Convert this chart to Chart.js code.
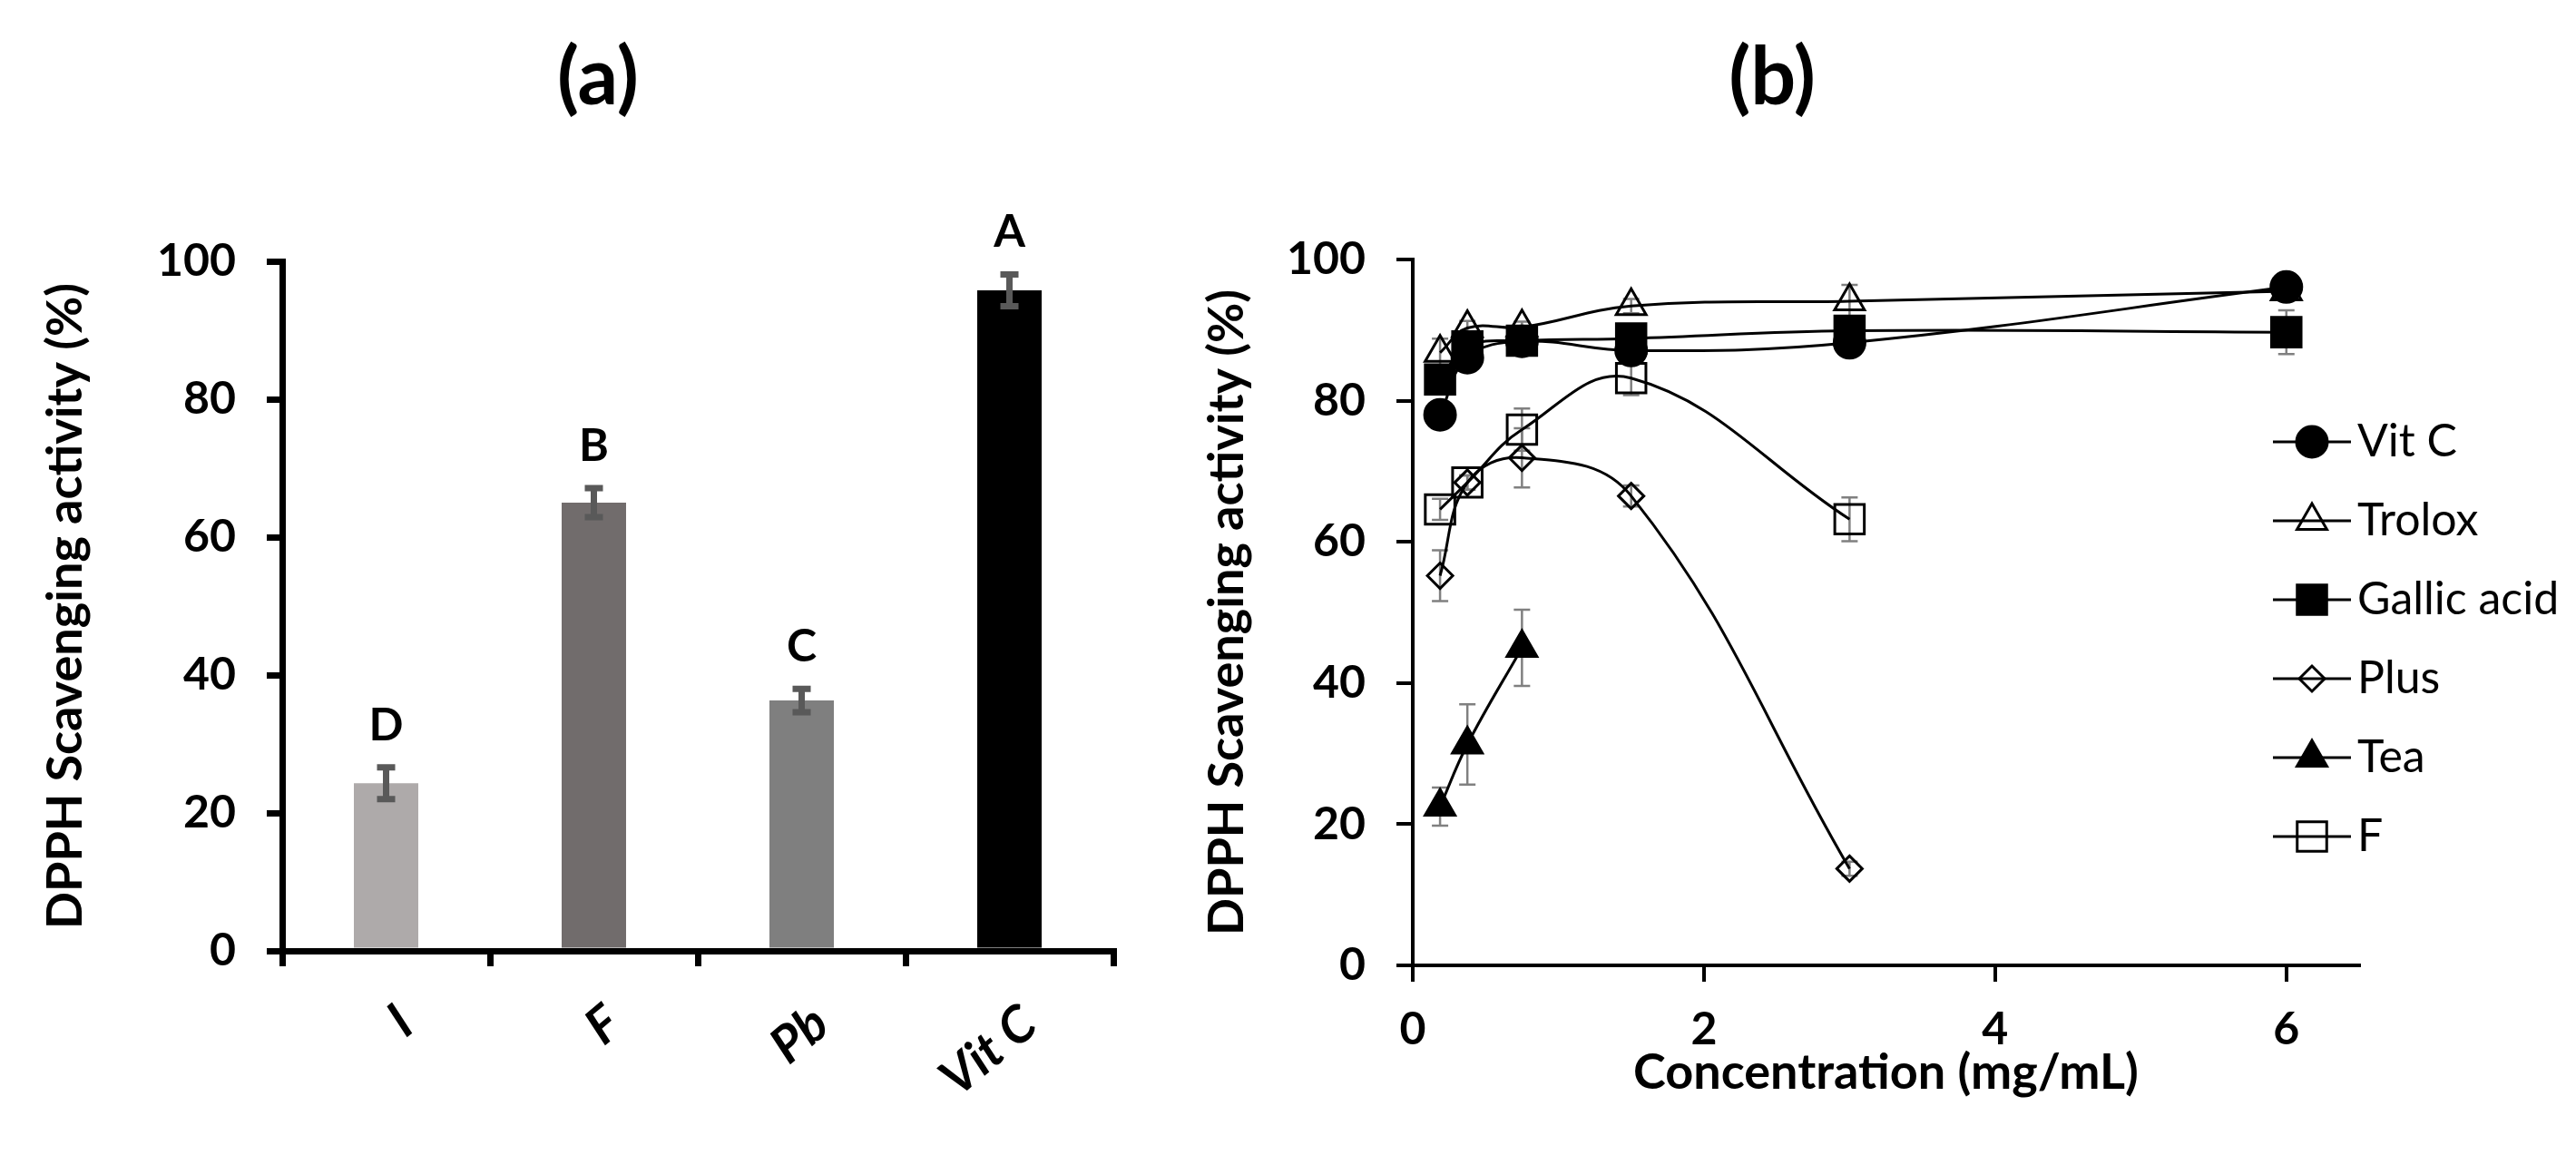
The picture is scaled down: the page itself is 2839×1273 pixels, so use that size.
<!DOCTYPE html>
<html>
<head>
<meta charset="utf-8">
<script src="https://cdn.jsdelivr.net/npm/chart.js@4.4.1/dist/chart.umd.min.js"></script>
<style>
  html, body { margin: 0; padding: 0; background: #fff; }
  body { width: 2839px; height: 1273px; position: relative; overflow: hidden; font-family: Lato, sans-serif; }
  .panel { position: absolute; top: 0; height: 1273px; }
  #panelA { left: 0; width: 1250px; }
  #panelB { left: 1250px; width: 1589px; }
  .heading { position: absolute; top: 37px; width: 240px; text-align: center; font: bold 88px/88px Lato, sans-serif; color: #000; }
</style>
</head>
<body>
<div class="panel" id="panelA"><canvas id="barChart"></canvas></div>
<div class="panel" id="panelB"><canvas id="lineChart"></canvas></div>
<div class="heading" style="left: 539px;">(a)</div>
<div class="heading" style="left: 1833px;">(b)</div>
<script>
// panel (a): single concentration comparison
const barLabels = ['I', 'F', 'Pb', 'Vit C']
const barValues = [24.3, 65.0, 36.3, 95.8]
const barErrors = [2.3, 2.1, 1.7, 2.3]
const barLetters = ['D', 'B', 'C', 'A']

// panel (b): dose response, x in mg/mL
const concentrations = [0.1875, 0.375, 0.75, 1.5, 3, 6]
const vitC = [78.0, 86.1, 88.4, 87.1, 88.2, 96.1]
const vitCErr = [1.0, 1.5, 0.8, 1.0, 0.6, 0.8]
const trolox = [86.8, 90.3, 90.4, 93.4, 94.1, 95.5]
const troloxErr = [2.0, 1.0, 0.8, 1.0, 2.3, 1.0]
const gallic = [83.0, 87.7, 88.5, 88.8, 89.9, 89.7]
const gallicErr = [1.0, 1.0, 0.8, 1.0, 0.8, 3.1]
const plus = [55.2, 68.4, 71.9, 66.5, 13.7]
const plusErr = [3.6, 1.0, 4.2, 1.5, 1.0]
const tea = [22.5, 31.3, 45.0]
const teaErr = [2.7, 5.7, 5.4]
const fSeries = [64.6, 68.4, 75.9, 83.2, 63.2]
const fErr = [1.5, 1.0, 3.0, 2.4, 3.1]

const yTicks = [0, 20, 40, 60, 80, 100]
const xTicks = [0, 2, 4, 6]

const barColors = ['#aeaaaa', '#716c6c', '#7f7f7f', '#000000']

Chart.defaults.font.family = 'Lato'
Chart.defaults.color = '#000'
Chart.defaults.animation = false

const tickFont = { size: 50, weight: 'bold' }
const titleFont = { size: 54, weight: 'bold' }

// error bars and significance letters for the bars
const barDecorations = {
  id: 'barDecorations',
  afterDatasetsDraw(chart) {
    const { ctx } = chart
    const y = chart.scales.y
    const bars = chart.getDatasetMeta(0).data
    ctx.save()
    bars.forEach((bar, i) => {
      const top = y.getPixelForValue(barValues[i] + barErrors[i])
      const bottom = y.getPixelForValue(barValues[i] - barErrors[i])
      ctx.strokeStyle = '#595959'
      ctx.lineWidth = 7
      ctx.beginPath()
      ctx.moveTo(bar.x, top)
      ctx.lineTo(bar.x, bottom)
      ctx.moveTo(bar.x - 10, top)
      ctx.lineTo(bar.x + 10, top)
      ctx.moveTo(bar.x - 10, bottom)
      ctx.lineTo(bar.x + 10, bottom)
      ctx.stroke()
      ctx.fillStyle = '#000'
      ctx.font = 'bold 50px Lato'
      ctx.textAlign = 'center'
      ctx.textBaseline = 'alphabetic'
      ctx.fillText(barLetters[i], bar.x, top - 30)
    })
    ctx.restore()
  }
}

// thin grey error bars behind the markers
const lineErrorBars = {
  id: 'lineErrorBars',
  beforeDatasetsDraw(chart) {
    const { ctx } = chart
    const y = chart.scales.y
    ctx.save()
    ctx.strokeStyle = '#808080'
    ctx.lineWidth = 2.5
    chart.data.datasets.forEach((ds, d) => {
      chart.getDatasetMeta(d).data.forEach((pt, i) => {
        const v = ds.data[i].y
        const top = y.getPixelForValue(v + ds.errors[i])
        const bottom = y.getPixelForValue(v - ds.errors[i])
        ctx.beginPath()
        ctx.moveTo(pt.x, top)
        ctx.lineTo(pt.x, bottom)
        ctx.moveTo(pt.x - 9, top)
        ctx.lineTo(pt.x + 9, top)
        ctx.moveTo(pt.x - 9, bottom)
        ctx.lineTo(pt.x + 9, bottom)
        ctx.stroke()
      })
    })
    ctx.restore()
  }
}

// legend sits inside the plot, to the right of the last points
const legendPlacer = {
  id: 'legendPlacer',
  beforeDraw(chart) {
    const lg = chart.legend
    lg.left = 1236
    lg.right = chart.width
    lg.top = 425
    lg.bottom = chart.height
  }
}

function series(label, values, errors, pointStyle, pointRadius, filled) {
  return {
    label,
    data: values.map((v, i) => ({ x: concentrations[i], y: v })),
    errors,
    borderColor: '#000',
    borderWidth: 3,
    tension: 0.4,
    pointStyle,
    pointRadius,
    pointHoverRadius: pointRadius,
    pointBorderWidth: 3,
    pointBorderColor: '#000',
    pointBackgroundColor: filled ? '#000' : 'rgba(255,255,255,0)',
    clip: false
  }
}

// legend symbol: line with the series marker on it
function legendIcon(ds) {
  const c = document.createElement('canvas')
  c.width = 86
  c.height = 50
  const g = c.getContext('2d')
  g.strokeStyle = '#000'
  g.lineWidth = 3
  g.beginPath()
  g.moveTo(0, 25)
  g.lineTo(86, 25)
  g.stroke()
  g.fillStyle = ds.pointBackgroundColor
  g.lineWidth = ds.pointBorderWidth
  if (Chart.helpers && Chart.helpers.drawPoint) {
    Chart.helpers.drawPoint(g, { pointStyle: ds.pointStyle, radius: ds.pointRadius, borderWidth: ds.pointBorderWidth, rotation: 0 }, 43, 25)
  } else {
    g.beginPath()
    g.arc(43, 25, ds.pointRadius * 0.8, 0, Math.PI * 2)
    g.fill()
    g.stroke()
  }
  return c
}

new Chart(document.getElementById('barChart'), {
  type: 'bar',
  data: {
    labels: barLabels,
    datasets: [{
      data: barValues,
      backgroundColor: barColors,
      barPercentage: 0.31,
      categoryPercentage: 1
    }]
  },
  options: {
    responsive: true,
    maintainAspectRatio: false,
    events: [],
    layout: { padding: { left: 38, right: 23, top: 288, bottom: 0 } },
    plugins: { legend: { display: false }, tooltip: { enabled: false } },
    scales: {
      x: {
        z: 1,
        border: { color: '#000', width: 7 },
        grid: { drawOnChartArea: false, color: '#000', lineWidth: 7, tickLength: 17, offset: true },
        ticks: {
          font: { size: 56, weight: 'bold', style: 'italic' },
          color: '#000',
          minRotation: 40,
          maxRotation: 40,
          padding: 30,
          labelOffset: 22
        },
        afterFit: s => { s.height = 225 }
      },
      y: {
        z: 1,
        min: 0,
        max: 100,
        border: { color: '#000', width: 7 },
        grid: { drawOnChartArea: false, color: '#000', lineWidth: 7, tickLength: 17 },
        afterBuildTicks: s => { s.ticks = yTicks.map(v => ({ value: v })) },
        ticks: { font: tickFont, color: '#000', padding: 34 },
        title: {
          display: true,
          text: 'DPPH Scavenging activity (%)',
          font: titleFont,
          color: '#000',
          padding: { top: 2, bottom: 0 }
        },
        afterFit: s => { s.width = 273 }
      }
    }
  },
  plugins: [barDecorations]
})

const lineDatasets = [
  series('Vit C', vitC, vitCErr, 'circle', 17, true),
  series('Trolox', trolox, troloxErr, 'triangle', 19, false),
  series('Gallic acid', gallic, gallicErr, 'rect', 23, true),
  series('Plus', plus, plusErr, 'rectRot', 14, false),
  series('Tea', tea, teaErr, 'triangle', 19, true),
  series('F', fSeries, fErr, 'rect', 23, false)
]
const icons = lineDatasets.map(legendIcon)

new Chart(document.getElementById('lineChart'), {
  type: 'line',
  data: { datasets: lineDatasets },
  options: {
    responsive: true,
    maintainAspectRatio: false,
    events: [],
    layout: { padding: { left: 60, right: 239, top: 286, bottom: 0 } },
    plugins: {
      tooltip: { enabled: false },
      legend: {
        position: 'chartArea',
        align: 'start',
        labels: {
          font: { size: 50 },
          color: '#000',
          usePointStyle: true,
          boxWidth: 59,
          boxHeight: 50,
          padding: 37,
          generateLabels: chart => chart.data.datasets.map((ds, i) => ({
            text: ds.label,
            pointStyle: icons[i],
            fontColor: '#000',
            fillStyle: 'rgba(0,0,0,0)',
            strokeStyle: 'rgba(0,0,0,0)',
            lineWidth: 0,
            hidden: false,
            rotation: 0,
            datasetIndex: i
          }))
        }
      }
    },
    scales: {
      x: {
        type: 'linear',
        min: 0,
        max: 6.5,
        border: { color: '#000', width: 4 },
        grid: { drawOnChartArea: false, color: '#000', lineWidth: 4, tickLength: 18 },
        afterBuildTicks: s => { s.ticks = xTicks.map(v => ({ value: v })) },
        ticks: { font: tickFont, color: '#000', padding: 23 },
        title: {
          display: true,
          text: 'Concentration (mg/mL)',
          font: titleFont,
          color: '#000',
          padding: { top: 0, bottom: 58 }
        },
        afterFit: s => { s.height = 209 }
      },
      y: {
        min: 0,
        max: 100,
        border: { color: '#000', width: 4 },
        grid: { drawOnChartArea: false, color: '#000', lineWidth: 4, tickLength: 18 },
        afterBuildTicks: s => { s.ticks = yTicks.map(v => ({ value: v })) },
        ticks: { font: tickFont, color: '#000', padding: 34 },
        title: {
          display: true,
          text: 'DPPH Scavenging activity (%)',
          font: titleFont,
          color: '#000',
          padding: { top: 10, bottom: 0 }
        },
        afterFit: s => { s.width = 247 }
      }
    }
  },
  plugins: [lineErrorBars, legendPlacer]
})
</script>
</body>
</html>
